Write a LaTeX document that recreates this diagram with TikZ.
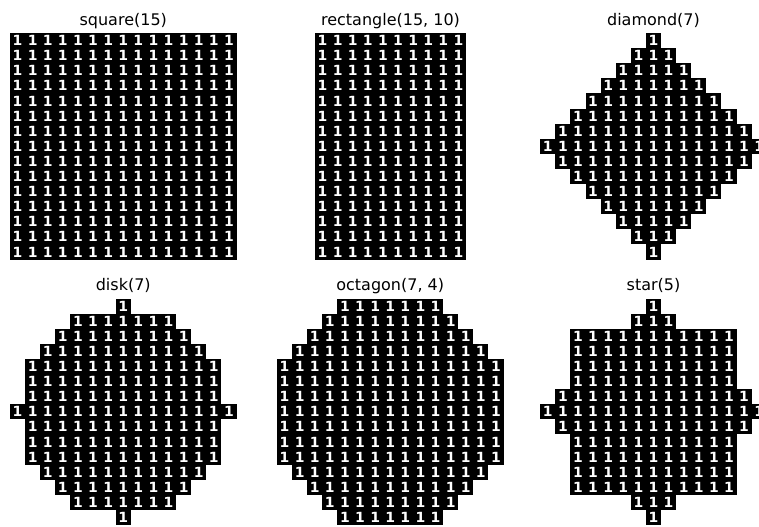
\documentclass[tikz,border=0pt]{standalone}
\usepackage{fontspec}
\setmainfont{DejaVu Sans}
\tikzset{
  cella/.style={fill=black},
  uno/.style={text=white, inner sep=0pt, font=\fontsize{10.5}{10.5}\selectfont\bfseries},
  titolo/.style={anchor=base, inner sep=0pt, font=\fontsize{12}{12}\selectfont},
}
% #1 nome, #2 sinistra, #3 alto, #4 righe (prima/ultima colonna)
\newcommand{\elemento}[4]{%
  \foreach \inizio/\fine [count=\r from 0] in {#4} {
    \fill[cella] (#2+15.1*\inizio, #3+15.1*\r) rectangle (#2+15.1*\fine+15.1, #3+15.1*\r+15.1);
    \foreach \c in {\inizio,...,\fine}
      \node[uno] (#1-\r-\c) at (#2+15.1*\c+7.55, #3+15.1*\r+7.55) {1};
  }%
}
\begin{document}
\begin{tikzpicture}[x=0.75pt, y=-0.75pt]
  \useasboundingbox (0,0) rectangle (759,526);
  \clip (0,0) rectangle (759,526);

  % Titoli
  \node[titolo] (t-square) at (123.25,25) {square(15)};
  \node[titolo] (t-rectangle) at (390.5,25) {rectangle(15, 10)};
  \node[titolo] (t-diamond) at (653.5,25) {diamond(7)};
  \node[titolo] (t-disk) at (123.25,290.5) {disk(7)};
  \node[titolo] (t-octagon) at (390.25,290.5) {octagon(7, 4)};
  \node[titolo] (t-star) at (653.5,290.5) {star(5)};

  % Elementi
  \elemento{square}{10}{33}{0/14,0/14,0/14,0/14,0/14,0/14,0/14,0/14,0/14,0/14,0/14,0/14,0/14,0/14,0/14}
  \elemento{rectangle}{315}{33}{0/9,0/9,0/9,0/9,0/9,0/9,0/9,0/9,0/9,0/9,0/9,0/9,0/9,0/9,0/9}
  \elemento{diamond}{540.25}{33}{7/7,6/8,5/9,4/10,3/11,2/12,1/13,0/14,1/13,2/12,3/11,4/10,5/9,6/8,7/7}
  \elemento{disk}{10}{298.5}{7/7,4/10,3/11,2/12,1/13,1/13,1/13,0/14,1/13,1/13,1/13,2/12,3/11,4/10,7/7}
  \elemento{octagon}{277}{298.5}{4/10,3/11,2/12,1/13,0/14,0/14,0/14,0/14,0/14,0/14,0/14,1/13,2/12,3/11,4/10}
  \elemento{star}{540.25}{298.5}{7/7,6/8,2/12,2/12,2/12,2/12,1/13,0/14,1/13,2/12,2/12,2/12,2/12,6/8,7/7}
\end{tikzpicture}
\end{document}
